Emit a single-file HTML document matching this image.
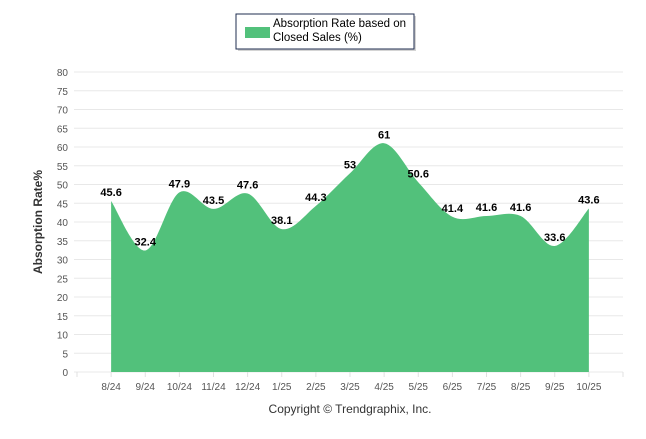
<!DOCTYPE html>
<html><head><meta charset="utf-8"><style>
body{margin:0;background:#fff;font-family:"Liberation Sans",sans-serif;}
svg text{font-family:"Liberation Sans",sans-serif;}
</style></head><body>
<svg id="c" width="646" height="434" xmlns="http://www.w3.org/2000/svg">
<g>
<rect x="238" y="16" width="178" height="35" fill="#aaa" opacity="0.5"/>
<rect x="236" y="14" width="178" height="35" fill="#fff" stroke="#1f2d4f" stroke-width="1"/>
<rect x="245" y="27" width="25" height="11" fill="#52c17b"/>
<text x="273" y="27" font-size="11.5" fill="#000">Absorption Rate based on</text>
<text x="273" y="41" font-size="11.5" fill="#000">Closed Sales (%)</text>
</g>
<g id="grid"></g>
<g id="area"></g>
<g id="labels"></g>
<text x="42" y="222" font-size="12" font-weight="bold" fill="#333" transform="rotate(-90 42 222)" text-anchor="middle">Absorption Rate%</text>
<text x="350" y="413" font-size="12" fill="#333" text-anchor="middle">Copyright © Trendgraphix, Inc.</text>
</svg>
<script>
const categories=["8/24","9/24","10/24","11/24","12/24","1/25","2/25","3/25","4/25","5/25","6/25","7/25","8/25","9/25","10/25"];
const values=[45.6,32.4,47.9,43.5,47.6,38.1,44.3,53,61,50.6,41.4,41.6,41.6,33.6,43.6];
const yTicks=[0,5,10,15,20,25,30,35,40,45,50,55,60,65,70,75,80];
const NS="http://www.w3.org/2000/svg";
const L=77,R=623,T=72,B=372;
const step=(R-L)/(categories.length+1);
const x=i=>L+step*(i+1);
const y=v=>B-(v/80)*(B-T);
function mk(t,a,p){const e=document.createElementNS(NS,t);for(const k in a)e.setAttribute(k,a[k]);p.appendChild(e);return e;}
const grid=document.getElementById('grid');
yTicks.forEach(v=>{
 const l=mk('line',{x1:L-3,x2:R,y1:y(v),y2:y(v),stroke:'#e8e8e8','stroke-width':1},grid);
 
 
 const t=mk('text',{x:68,y:y(v)+4,'font-size':10,fill:'#555','text-anchor':'end'},grid);
 t.textContent=v;
 
 
});
for(let i=0;i<=categories.length+1;i++){
 mk('line',{x1:L+step*i,x2:L+step*i,y1:B,y2:B+5,stroke:'#e0e0e0'},grid);
}
categories.forEach((c,i)=>{
 const t=mk('text',{x:x(i),y:B+18,'font-size':10,fill:'#555','text-anchor':'middle'},grid);
 t.textContent=c;
 
 
});
const pts=values.map((v,i)=>[x(i),y(v)]);
const n=pts.length;
let d=`M${pts[0][0]},${B} L${pts[0][0]},${pts[0][1]}`;
const tan=i=>{const a=pts[Math.max(0,i-1)],b=pts[Math.min(n-1,i+1)];return [(b[0]-a[0])/6,(b[1]-a[1])/6];};
for(let i=0;i<n-1;i++){
 const p0=pts[i],p1=pts[i+1],t0=tan(i),t1=tan(i+1);
 d+=` C${p0[0]+t0[0]},${p0[1]+t0[1]} ${p1[0]-t1[0]},${p1[1]-t1[1]} ${p1[0]},${p1[1]}`;
}
d+=` L${pts[n-1][0]},${B} Z`;
const a=mk('path',{d:d,fill:'#52c17b'},document.getElementById('area'));


const lab=document.getElementById('labels');
values.forEach((v,i)=>{
 const t=mk('text',{x:x(i),y:y(v)-5,'font-size':11,'font-weight':'bold',fill:'#000','text-anchor':'middle'},lab);
 t.textContent=v;
 
 
});
</script>
</body></html>
